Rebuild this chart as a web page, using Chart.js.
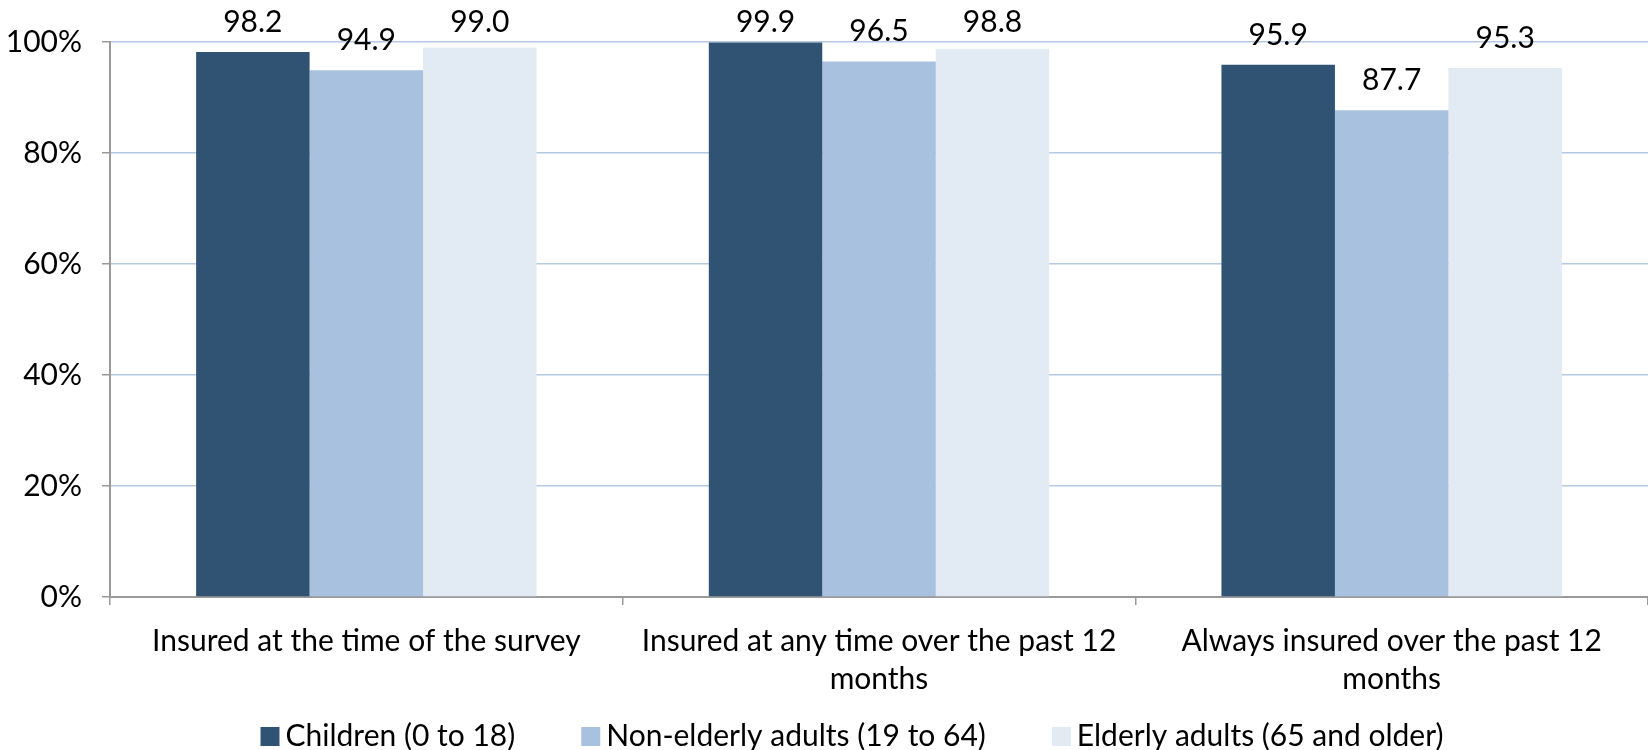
<!DOCTYPE html>
<html>
<head>
<meta charset="utf-8">
<script src="https://cdn.jsdelivr.net/npm/chart.js@4"></script>
<style>
  html, body { margin: 0; padding: 0; background: #ffffff; }
  #wrap { width: 1648px; height: 750px; }
</style>
</head>
<body>
<div id="wrap"><canvas id="c" width="1648" height="750"></canvas></div>
<script>
// ---- data ----
const categories = [
  ["Insured at the time of the survey"],
  ["Insured at any time over the past 12", "months"],
  ["Always insured over the past 12", "months"]
];
const seriesNames = ["Children (0 to 18)", "Non-elderly adults (19 to 64)", "Elderly adults (65 and older)"];
const children = [98.2, 99.9, 95.9];
const nonElderly = [94.9, 96.5, 87.7];
const elderly = [99.0, 98.8, 95.3];
const yTicks = [0, 20, 40, 60, 80, 100];
const seriesColors = ["#305273", "#A7C1DF", "#E2EAF4"];

const FONT = "Lato";
const FS = 30;

// legend swatch image: square placed at the right end, next to the text
function swatch(color) {
  const c = document.createElement('canvas');
  c.width = 90; c.height = 19;
  const g = c.getContext('2d');
  g.fillStyle = color;
  g.fillRect(68, 0, 19, 19);
  return c;
}

const valueLabels = {
  id: 'valueLabels',
  afterDatasetsDraw(chart) {
    const ctx = chart.ctx;
    ctx.save();
    ctx.font = FS + "px " + FONT;
    ctx.fillStyle = "#000000";
    ctx.textAlign = "center";
    ctx.textBaseline = "alphabetic";
    chart.data.datasets.forEach((ds, di) => {
      const meta = chart.getDatasetMeta(di);
      meta.data.forEach((el, i) => {
        const y = Math.max(el.y - 20, chart.chartArea.top - 10);
        ctx.fillText(ds.data[i].toFixed(1), el.x, y);
      });
    });
    ctx.restore();
  }
};

new Chart(document.getElementById('c'), {
  type: 'bar',
  data: {
    labels: categories,
    datasets: [
      { label: seriesNames[0], data: children, backgroundColor: seriesColors[0] },
      { label: seriesNames[1], data: nonElderly, backgroundColor: seriesColors[1] },
      { label: seriesNames[2], data: elderly, backgroundColor: seriesColors[2] }
    ]
  },
  options: {
    responsive: false,
    animation: false,
    layout: { padding: { top: 42, left: 0, right: 0, bottom: -11 } },
    datasets: { bar: { barPercentage: 1.0, categoryPercentage: 0.664 } },
    plugins: {
      tooltip: { enabled: false },
      legend: {
        position: 'bottom',
        labels: {
          color: "#000000",
          font: { family: FONT, size: FS },
          usePointStyle: true,
          pointStyleWidth: 66,
          padding: 10,
          generateLabels(chart) {
            return chart.data.datasets.map((ds, i) => ({
              text: ds.label,
              fillStyle: ds.backgroundColor,
              strokeStyle: ds.backgroundColor,
              lineWidth: 0,
              hidden: false,
              datasetIndex: i,
              pointStyle: swatch(ds.backgroundColor),
              fontColor: "#000000"
            }));
          }
        }
      }
    },
    scales: {
      x: {
        afterFit(scale) { scale.height = 114; },
        grid: {
          display: true, drawOnChartArea: false, drawTicks: true,
          tickLength: 8, color: "#9a9a9a", offset: true, lineWidth: 1.5
        },
        border: { display: true, color: "#9a9a9a", width: 2 },
        ticks: {
          color: "#000000",
          font: { family: FONT, size: FS, lineHeight: 1.267 },
          padding: 17,
          maxRotation: 0, autoSkip: false
        }
      },
      y: {
        min: 0, max: 100,
        afterFit(scale) { scale.width = 110; },
        afterBuildTicks(scale) { scale.ticks = yTicks.map(v => ({ value: v })); },
        grid: {
          color: "#B4C9E4", lineWidth: 1.5, tickLength: 8, tickColor: "#9a9a9a"
        },
        border: { display: true, color: "#9a9a9a", width: 2 },
        ticks: {
          color: "#000000",
          font: { family: FONT, size: FS },
          padding: 20,
          callback: v => v + "%"
        }
      }
    }
  },
  plugins: [valueLabels]
});
</script>
</body>
</html>
